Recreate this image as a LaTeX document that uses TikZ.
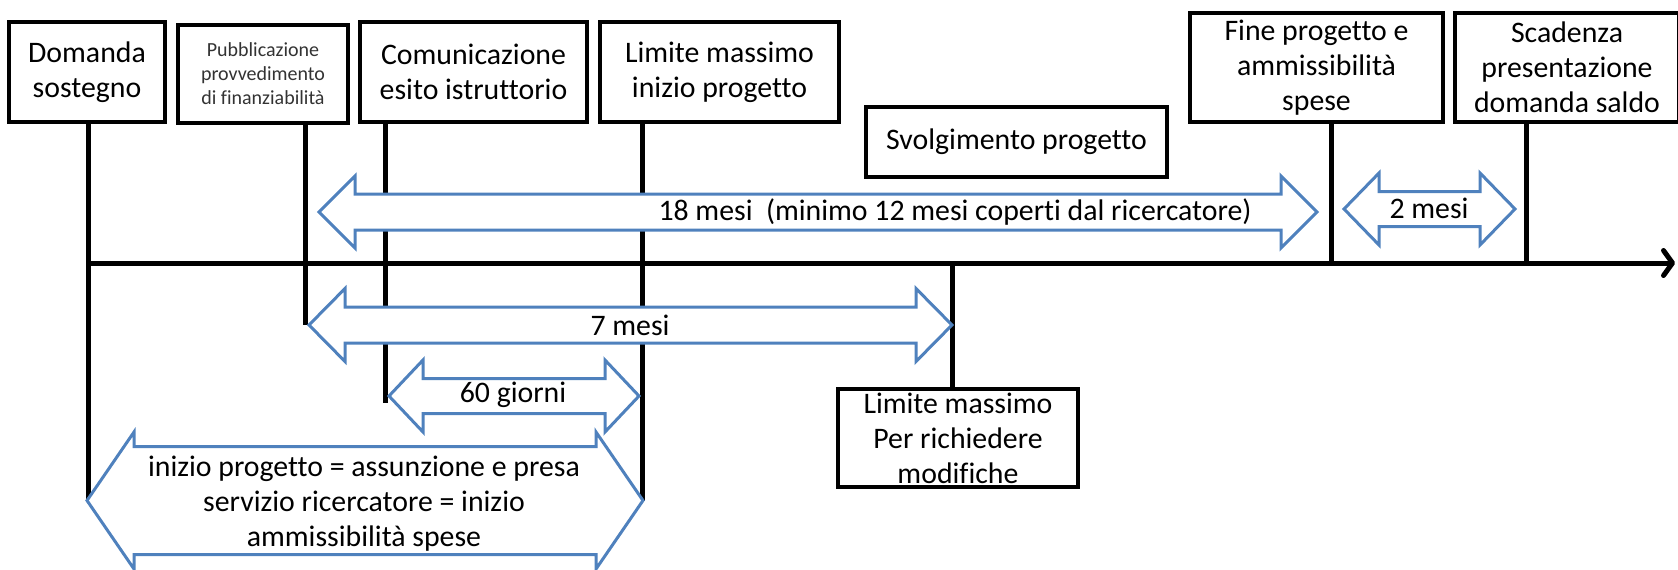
\documentclass[tikz,border=0pt]{standalone}
\usepackage{fontspec}
\setmainfont{Carlito}[Ligatures=NoCommon]
\usetikzlibrary{arrows.meta}
\definecolor{arrowblue}{RGB}{79,129,189}
\newcommand{\blockarrow}[6]{\draw[blockarr](#1,#3)--({#1+#6},{#3-#5})--({#1+#6},{#3-#4})--({#2-#6},{#3-#4})--({#2-#6},{#3-#5})--(#2,#3)--({#2-#6},{#3+#5})--({#2-#6},{#3+#4})--({#1+#6},{#3+#4})--({#1+#6},{#3+#5})--cycle;}

\begin{document}
\begin{tikzpicture}[x=1pt,y=-1pt,
    box/.style={draw,line width=4pt,fill=white,align=center,inner sep=0pt,font=\fontsize{29.8}{35}\selectfont},
    tick/.style={line width=5pt},
    blockarr/.style={draw=arrowblue,line width=3pt,fill=white},
    lbl/.style={align=center,inner sep=0pt,font=\fontsize{29.8}{35}\selectfont}]
    \useasboundingbox(0,0)rectangle(1678,570);

    \node[box,minimum width=156,minimum height=100](dom)at(87,72){Domanda\\sostegno};
    \node[box,minimum width=170,minimum height=98,text=black!80,font=\fontsize{20}{24}\selectfont](pub)at(263,74){Pubblicazione\\provvedimento\\di finanziabilità};
    \node[box,minimum width=227,minimum height=100](com)at(473.5,72){Comunicazione\\esito istruttorio};
    \node[box,minimum width=239,minimum height=100](lim)at(719.5,72){Limite massimo\\inizio progetto};
    \node[box,minimum width=301,minimum height=70](svo)at(1016.5,142){Svolgimento progetto};
    \node[box,minimum width=253,minimum height=109](fin)at(1316.5,67.5){Fine progetto e\\ammissibilità\\spese};
    \node[box,minimum width=224,minimum height=109](sca)at(1567,67.5){Scadenza\\presentazione\\domanda saldo};
    \node[box,minimum width=240,minimum height=98](mod)at(958,438){Limite massimo\\Per richiedere\\modifiche};

    \coordinate(tl)at(88,263);
    \coordinate(tr)at(1675,263);
    \coordinate(e1)at(88,500);
    \coordinate(e2)at(305,325);
    \coordinate(e3)at(385,403);
    \coordinate(e4)at(642,501);
    \coordinate(e5)at(952,263);
    \coordinate(e6)at(1331,263);
    \coordinate(e7)at(1526,263);

    \draw[tick,-{Straight Barb[length=9pt,width=25pt,round]}](tl)--(tr);
    \draw[tick](dom.south-|e1)--(e1);
    \draw[tick](pub.south-|e2)--(e2);
    \draw[tick](com.south-|e3)--(e3);
    \draw[tick](lim.south-|e4)--(e4);
    \draw[tick](e5)--(mod.north-|e5);
    \draw[tick](fin.south-|e6)--(e6);
    \draw[tick](sca.south-|e7)--(e7);

    \blockarrow{319}{1317}{212}{18}{36}{36}
    \blockarrow{1344}{1515}{209}{17.5}{36}{35}
    \blockarrow{309}{952}{325}{18}{36.5}{36}
    \blockarrow{389}{639}{396}{17.5}{36}{34}
    \blockarrow{87}{643}{500.5}{54}{68.5}{47}

    \node[lbl](m18)at(955,212){18 mesi~ (minimo 12 mesi coperti dal ricercatore)};
    \node[lbl](m2)at(1429,208){2 mesi};
    \node[lbl](m7)at(630,325){7 mesi};
    \node[lbl](g60)at(513,395){60 giorni};
    \node[lbl](start)at(364,504){inizio progetto = assunzione e presa\\servizio ricercatore = inizio\\ammissibilità spese};
\end{tikzpicture}
\end{document}
